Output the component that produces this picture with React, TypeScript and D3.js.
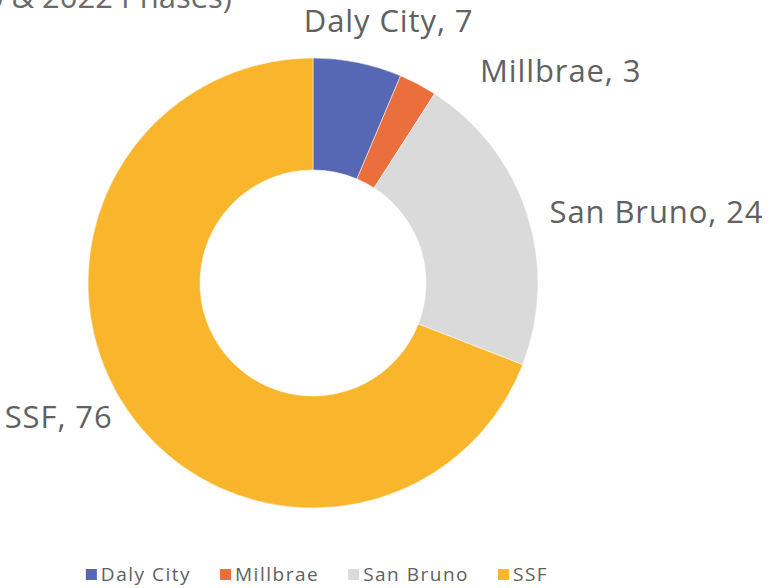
import React, { useEffect, useRef } from "react";
import * as d3 from "d3";

const categories = ["Daly City", "Millbrae", "San Bruno", "SSF"];
const values = [7, 3, 24, 76];
const colors = ["#5668b3", "#ea6f3d", "#dadada", "#f9b62c"];
const titleText = "Participants by City (2020 & 2022 Phases)";
// label anchor side and nudge from the arc's label point
const labelAnchors = ["middle", "start", "start", "end"];
const labelNudges: [number, number][] = [[25, -1], [48, 25], [-6, 19], [10, 1]];

const W = 777;
const H = 588;

export default function App() {
  const ref = useRef<SVGSVGElement | null>(null);

  useEffect(() => {
    const svg = d3.select(ref.current);
    svg.selectAll("*").remove();

    const cx = 313;
    const cy = 283;
    const outerR = 225;
    const innerR = 113;
    const labelR = 255;

    const pie = d3.pie<number>().sort(null).value((d) => d);
    const arcs = pie(values);
    const arc = d3.arc<d3.PieArcDatum<number>>().innerRadius(innerR).outerRadius(outerR);
    const labelArc = d3.arc<d3.PieArcDatum<number>>().innerRadius(labelR).outerRadius(labelR);

    // title (mostly cut off at top)
    svg
      .append("text")
      .attr("x", 232)
      .attr("y", 8)
      .attr("text-anchor", "end")
      .attr("font-family", "Open Sans")
      .attr("font-size", 31)
      .attr("fill", "#6a6a6a")
      .text(titleText);

    const g = svg.append("g").attr("transform", `translate(${cx},${cy})`);
    g.selectAll("path.slice")
      .data(arcs)
      .join("path")
      .attr("class", "slice")
      .attr("d", arc)
      .attr("fill", (_, i) => colors[i])
      .attr("stroke", "#ffffff")
      .attr("stroke-width", 0.5);

    g.selectAll("text.lbl")
      .data(arcs)
      .join("text")
      .attr("class", "lbl")
      .attr("x", (d, i) => labelArc.centroid(d)[0] + labelNudges[i][0])
      .attr("y", (d, i) => labelArc.centroid(d)[1] + labelNudges[i][1])
      .attr("text-anchor", (_, i) => labelAnchors[i])
      .attr("font-family", "Open Sans")
      .attr("font-size", 31)
      .attr("letter-spacing", 0.9)
      .attr("fill", "#616161")
      .text((d, i) => `${categories[i]}, ${values[i]}`);

    // legend
    const lg = svg.append("g");
    const items = lg
      .selectAll("g.item")
      .data(categories)
      .join("g")
      .attr("class", "item");
    items
      .append("rect")
      .attr("width", 11)
      .attr("height", 11)
      .attr("y", 569)
      .attr("fill", (_, i) => colors[i]);
    const texts = items
      .append("text")
      .attr("x", 15)
      .attr("y", 581)
      .attr("font-family", "Open Sans")
      .attr("font-size", 19)
      .attr("letter-spacing", 1.5)
      .attr("fill", "#606060")
      .text((d) => d);
    const widths: number[] = [];
    texts.each(function () {
      widths.push((this as SVGTextElement).getComputedTextLength());
    });
    const gap = 29;
    const itemW = widths.map((w) => 15 + w);
    const total = d3.sum(itemW) + gap * (itemW.length - 1);
    let x = 317 - total / 2;
    items.attr("transform", (_, i) => {
      const t = `translate(${x},0)`;
      x += itemW[i] + gap;
      return t;
    });
  }, []);

  return (
    <svg
      ref={ref}
      width={W}
      height={H}
      style={{ position: "absolute", left: 0, top: 0, background: "#ffffff" }}
    />
  );
}
